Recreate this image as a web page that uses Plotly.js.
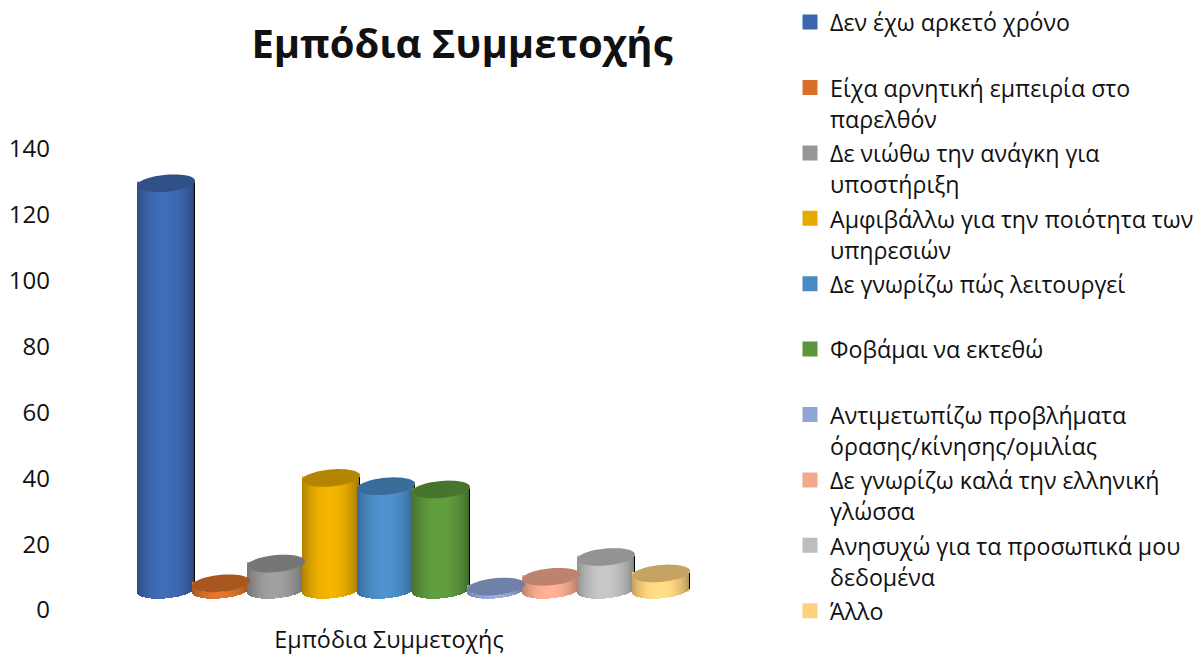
<!DOCTYPE html>
<html><head><meta charset="utf-8">
<script src="https://cdn.plot.ly/plotly-3.0.1.min.js"></script>
<style>html,body{margin:0;padding:0;background:#fff}#c{width:1198px;height:655px}</style>
</head><body><div id="c"></div>
<script>
const chartTitle = "Εμπόδια Συμμετοχής";
const categoryLabel = "Εμπόδια Συμμετοχής";
const seriesNames = [
  ["Δεν έχω αρκετό χρόνο"],
  ["Είχα αρνητική εμπειρία στο","παρελθόν"],
  ["Δε νιώθω την ανάγκη για","υποστήριξη"],
  ["Αμφιβάλλω για την ποιότητα των","υπηρεσιών"],
  ["Δε γνωρίζω πώς λειτουργεί"],
  ["Φοβάμαι να εκτεθώ"],
  ["Αντιμετωπίζω προβλήματα","όρασης/κίνησης/ομιλίας"],
  ["Δε γνωρίζω καλά την ελληνική","γλώσσα"],
  ["Ανησυχώ για τα προσωπικά μου","δεδομένα"],
  ["Άλλο"]
];
const seriesValues = [123.5, 2, 8, 34, 31.5, 30.5, 1, 4, 10, 5];
const seriesColors = ["#3C66AE","#D8702A","#979797","#E6AA00","#4A8AC4","#5B963B","#8FA5D8","#F4A88D","#BDBDBD","#FDD27F"];
const yTicks = [0,20,40,60,80,100,120,140];

const W=1198,H=655, L=51, R=727, T=149, B=610;
const pxX=R-L, pxY=(B-T)/140;
const floorVal=6.1, groupOffset=24.5/pxX, pitch=55/pxX, cylW=58/pxX;
const ellipseB=8.5/pxY, tiltU=2.5/pxY, STRIPS=58;
const FONT='"Open Sans", "Noto Sans", sans-serif';
const INK='#111111';

function rgb(hex,f){
  const n=parseInt(hex.slice(1),16);
  const c=[n>>16&255,n>>8&255,n&255].map(v=>Math.min(255,Math.round(v*f)));
  return `rgb(${c[0]},${c[1]},${c[2]})`;
}
const traces=[], shapes=[];
seriesValues.forEach((v,i)=>{
  const cx=groupOffset+(i-4.5)*pitch;
  const lines=seriesNames[i].slice();
  if(lines.length<2 && i<seriesNames.length-1) lines.push("&nbsp;");
  const name=lines.map(s=>`<span style="font-size:23.2px">${s}</span>`).join("<br>");
  traces.push({type:'bar',x:[cx],y:[v],base:[floorVal],width:[cylW-3/pxX],name:name,
    marker:{color:seriesColors[i],line:{color:seriesColors[i],width:3}},hoverinfo:'skip',showlegend:true});
  const xs=[],ys=[],bs=[],cs=[];
  for(let k=0;k<STRIPS;k++){
    const t=-1+(2*k+1)/STRIPS;
    xs.push(cx+t*cylW/2);
    ys.push(v);
    bs.push(floorVal+tiltU*t-ellipseB*Math.sqrt(1-t*t));
    cs.push(rgb(seriesColors[i],0.70+0.36*Math.pow(1-(t+0.05)*(t+0.05),0.8)));
  }
  traces.push({type:'bar',x:xs,y:ys,base:bs,width:cylW/STRIPS*1.05,
    marker:{color:cs,line:{width:0}},hoverinfo:'skip',showlegend:false});
  let path='';
  for(let a=0;a<=48;a++){
    const th=a/48*2*Math.PI, c=Math.cos(th), s=Math.sin(th);
    path+=(a?'L':'M')+(cx+c*cylW/2)+','+(floorVal+v+tiltU*c+ellipseB*s);
  }
  shapes.push({type:'path',path:path+'Z',xref:'x',yref:'y',layer:'above',
    fillcolor:rgb(seriesColors[i],0.78),line:{width:0}});
});
const layout={
  width:W,height:H,paper_bgcolor:'#fff',plot_bgcolor:'rgba(0,0,0,0)',
  barmode:'overlay',bargap:0,showlegend:true,hovermode:false,
  margin:{l:L,r:W-R,t:0,b:0,pad:0,autoexpand:false},
  font:{family:FONT,color:INK},
  title:{text:`<b>${chartTitle}</b>`,x:462/W,xref:'container',xanchor:'center',y:1-44/H,yref:'container',yanchor:'middle',
    font:{family:FONT,size:40,color:INK}},
  xaxis:{range:[-0.5,0.5],tickvals:[0],ticktext:[categoryLabel],showgrid:false,zeroline:false,showline:false,ticks:'',
    tickfont:{size:23.3,family:FONT,color:INK},ticklabelstandoff:14},
  yaxis:{domain:[(H-B)/H,(H-T)/H],range:[0,140],tickvals:yTicks,showgrid:false,zeroline:false,showline:false,ticks:'',
    tickfont:{size:24,family:FONT,color:INK}},
  legend:{x:(790-L)/pxX,xanchor:'left',y:1,yanchor:'top',yref:'paper',valign:'top',traceorder:'normal',
    font:{family:FONT,size:24,color:INK},bgcolor:'rgba(0,0,0,0)',borderwidth:0,tracegroupgap:0},
  shapes:shapes
};
Plotly.newPlot('c',traces,layout,{displayModeBar:false,staticPlot:true});
</script></body></html>
